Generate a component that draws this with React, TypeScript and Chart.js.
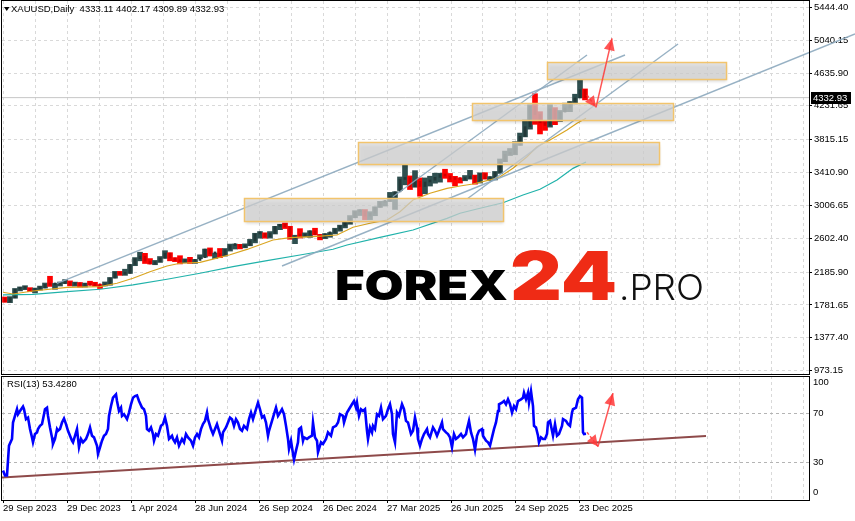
import React, { useEffect, useRef } from 'react';
import { Chart, registerables } from 'chart.js';

Chart.register(...registerables);

const FONT = '"Liberation Sans", Arial, sans-serif';

// ---------- axes / labels ----------
const dateLabels = ['29 Sep 2023', '29 Dec 2023', '1 Apr 2024', '28 Jun 2024', '26 Sep 2024', '26 Dec 2024', '27 Mar 2025', '26 Jun 2025', '24 Sep 2025', '23 Dec 2025'];
const gridIdx = [0, 32, 64, 96, 128, 160, 192, 224, 256, 288, 320, 352, 384, 416, 448, 480, 512, 544, 576, 608, 640, 672, 704, 736, 768, 800];
const priceTicks = [5444.40, 5040.15, 4635.90, 4231.65, 3815.15, 3410.90, 3006.65, 2602.40, 2185.90, 1781.65, 1377.40, 973.15];
const rsiTickPos = [95, 70, 30, 6.5];
const rsiTickText = ['100', '70', '30', '0'];
const rsiLevels = [70, 30];

const symbolText = 'XAUUSD,Daily';
const lastOHLC = ['4333.11', '4402.17', '4309.89', '4332.93'];
const lastClose = 4332.93;
const rsiName = 'RSI(13)';
const rsiLast = '53.4280';

// ---------- price (5-bar groups) ----------
const barsPerCandle = 5;
const firstOpen = 1866;
const candleHigh = [
  1880, 1885, 1985, 1997, 2010, 1995, 1990, 2008, 2052, 2135,
  2047, 2048, 2088, 2078, 2063, 2058, 2042, 2065, 2044, 2025,
  2041, 2120, 2195, 2185, 2222, 2280, 2365, 2431, 2417, 2353,
  2330, 2378, 2450, 2425, 2364, 2388, 2340, 2368, 2340, 2393,
  2470, 2484, 2420, 2477, 2477, 2531, 2531, 2528, 2529, 2589,
  2664, 2685, 2670, 2685, 2749, 2775, 2790, 2750, 2640, 2721,
  2665, 2695, 2726, 2650, 2660, 2673, 2726, 2764, 2800, 2882,
  2942, 2955, 2956, 2930, 2990, 3057, 3060, 3167, 3175, 3357,
  3500, 3370, 3435, 3345, 3345, 3366, 3403, 3403, 3452, 3400,
  3365, 3345, 3375, 3438, 3380, 3408, 3410, 3360, 3425, 3578,
  3675, 3707, 3791, 3897, 4059, 4245, 4381, 4160, 4050, 4245,
  4210, 4175, 4265, 4285, 4375, 4550, 4440,
];
const candleLow = [
  1815, 1810, 1865, 1955, 1970, 1945, 1930, 1965, 1990, 2010,
  1975, 2015, 2045, 2016, 2013, 2001, 2002, 2025, 2012, 1984,
  2016, 2025, 2112, 2146, 2146, 2170, 2265, 2325, 2292, 2286,
  2277, 2305, 2355, 2325, 2315, 2287, 2300, 2293, 2293, 2350,
  2370, 2384, 2353, 2364, 2383, 2445, 2470, 2472, 2485, 2510,
  2546, 2603, 2603, 2604, 2655, 2708, 2722, 2590, 2536, 2605,
  2620, 2613, 2643, 2583, 2597, 2615, 2656, 2690, 2730, 2775,
  2855, 2882, 2832, 2832, 2880, 2982, 2999, 3054, 2957, 3190,
  3260, 3202, 3230, 3120, 3150, 3245, 3280, 3293, 3340, 3295,
  3247, 3282, 3310, 3330, 3268, 3282, 3330, 3312, 3320, 3400,
  3545, 3620, 3630, 3745, 3850, 3945, 4004, 3886, 3930, 3970,
  4000, 4040, 4160, 4160, 4255, 4330, 4305,
];
const candleClose = [
  1820, 1870, 1975, 1985, 1985, 1958, 1980, 1992, 2036, 2028,
  2036, 2045, 2063, 2028, 2055, 2022, 2033, 2025, 2020, 2017,
  2031, 2114, 2182, 2160, 2171, 2280, 2352, 2383, 2322, 2286,
  2314, 2358, 2420, 2360, 2327, 2316, 2329, 2319, 2330, 2364,
  2469, 2410, 2410, 2390, 2465, 2513, 2524, 2493, 2516, 2570,
  2657, 2662, 2622, 2662, 2748, 2774, 2742, 2598, 2631, 2630,
  2643, 2694, 2646, 2612, 2657, 2670, 2714, 2753, 2794, 2855,
  2928, 2940, 2875, 2910, 2985, 3044, 3057, 3114, 3174, 3326,
  3348, 3238, 3305, 3240, 3295, 3318, 3352, 3386, 3368, 3328,
  3326, 3324, 3340, 3368, 3290, 3397, 3335, 3340, 3415, 3545,
  3635, 3645, 3750, 3857, 3975, 4225, 4125, 4025, 3990, 4195,
  4075, 4155, 4205, 4280, 4330, 4430, 4333,
];

// ---------- moving averages (bar index, price) ----------
const maFastIdx = [0, 10, 30, 64, 97, 114, 130, 147, 164, 177, 197, 210, 227, 244, 270, 287, 310, 334, 350, 367, 384, 397, 410, 427, 444, 457, 470, 487, 497, 510, 524, 534, 547, 564, 574, 583];
const maFastVal = [1938, 1917, 1954, 1999, 2007, 2049, 2110, 2191, 2261, 2295, 2307, 2345, 2400, 2465, 2581, 2610, 2622, 2643, 2738, 2787, 2827, 2930, 3073, 3156, 3217, 3246, 3270, 3320, 3360, 3464, 3606, 3729, 3812, 3935, 4017, 4079];
const maSlowIdx = [0, 30, 64, 97, 130, 164, 197, 230, 264, 297, 330, 344, 377, 410, 444, 457, 474, 500, 520, 537, 554, 570, 583];
const maSlowVal = [1905, 1913, 1945, 1975, 2028, 2098, 2172, 2253, 2327, 2397, 2467, 2520, 2614, 2704, 2848, 2910, 2963, 3040, 3135, 3205, 3319, 3463, 3540];

// ---------- drawn objects ----------
const trendIdx = [[54, 622], [279, 852], [465, 675], [390, 584]];
const trendVal = [[2048.5, 4857.5], [2261.3, 5115.9], [3094.3, 4992.8], [3114.0, 4857.5]];
const trendClip = [true, false, true, true];
const boxIdx = [[241, 500], [355, 656], [469, 670], [544, 723]];
const boxVal = [[2815.0, 3094.3], [3512.6, 3780.9], [4057.7, 4263.2], [4558.5, 4767.7]];
const arrowIdx = [584, 593, 609];
const arrowVal = [4365, 4214, 5063];

// ---------- RSI ----------
const rsiIdx = [
  0, 2, 4, 6, 9, 10, 12, 14, 15, 17, 20, 21, 23, 25, 27, 29, 30, 32, 34, 35, 37, 39, 40, 42, 44, 45, 47, 49, 50, 52,
  54, 55, 57, 59, 61, 63, 65, 67, 69, 70, 72, 74, 76, 78, 80, 83, 85, 87, 89, 91, 94, 95, 97, 99, 101, 103, 105, 106, 108, 110,
  113, 114, 116, 118, 119, 121, 124, 126, 128, 130, 132, 134, 136, 139, 141, 143, 144, 146, 148, 150, 151, 153, 155, 158, 160, 162,
  164, 166, 169, 170, 172, 174, 176, 179, 181, 183, 185, 188, 190, 192, 194, 196, 198, 200, 202, 204, 205, 208, 210, 212, 214, 217,
  219, 220, 223, 225, 227, 229, 231, 233, 235, 237, 239, 241, 244, 246, 248, 250, 253, 255, 257, 259, 261, 263, 265, 266, 269, 271,
  273, 275, 277, 279, 281, 283, 285, 286, 288, 290, 291, 293, 295, 296, 298, 300, 301, 304, 306, 309, 310, 312, 314, 315, 318, 320,
  323, 325, 328, 330, 333, 335, 337, 340, 341, 344, 346, 349, 351, 353, 354, 356, 358, 360, 362, 364, 365, 367, 369, 370, 372, 374,
  376, 378, 380, 383, 385, 387, 389, 390, 392, 394, 396, 399, 401, 403, 405, 408, 410, 412, 414, 415, 417, 419, 421, 424, 425, 427,
  430, 432, 434, 436, 439, 440, 443, 445, 447, 449, 451, 453, 455, 458, 460, 463, 464, 466, 468, 470, 472, 474, 476, 479, 480, 483,
  485, 487, 489, 491, 493, 495, 496, 499, 501, 503, 505, 507, 509, 511, 513, 515, 518, 520, 521, 523, 525, 526, 528, 530, 531, 533,
  535, 536, 538, 540, 542, 544, 545, 547, 549, 550, 552, 554, 556, 559, 560, 563, 565, 567, 569, 570, 573, 575, 577, 579, 580, 581, 583,
];
const rsiVal = [
  23.8, 19.8, 19.8, 43.8, 49.2, 62.5, 67.8, 73.2, 69.2, 71.8, 75.3, 73.2, 65.2, 66.5, 57.2, 50.5, 46.5, 53.2, 54.5, 57.2, 59.8, 61.2, 65.2, 73.2, 74.5, 67.8, 58.5, 50.5, 45.2, 49.2,
  57.2, 55.8, 57.2, 62.5, 65.7, 61.2, 55.8, 51.8, 47.8, 46.5, 51.8, 57.2, 42.5, 49.2, 46.5, 49.2, 53.2, 58.5, 51.8, 50.5, 43.8, 37.2, 42.5, 47.8, 51.8, 53.2, 57.2, 67.8, 75.8, 82.5,
  85.2, 79.8, 71.8, 74.5, 67.8, 69.2, 65.2, 70.5, 77.2, 82.5, 83.8, 84.4, 79.8, 74.5, 73.2, 67.8, 57.2, 55.8, 58.5, 53.2, 47.8, 53.2, 51.8, 59.8, 61.2, 66.5,
  59.8, 49.2, 51.8, 49.2, 46.5, 50.5, 43.8, 49.2, 46.5, 53.2, 50.5, 47.8, 43.8, 50.5, 53.2, 50.5, 57.2, 61.2, 63.8, 70.5, 65.2, 57.2, 53.2, 57.2, 61.2, 53.2,
  47.8, 54.5, 58.5, 62.5, 66.5, 65.2, 59.8, 65.2, 62.5, 57.2, 55.8, 59.8, 57.2, 65.2, 70.5, 65.2, 73.2, 78.5, 73.2, 66.5, 67.8, 62.5, 51.8, 55.8, 63.8, 69.2,
  74.5, 67.8, 70.5, 73.2, 69.2, 59.8, 49.2, 41.2, 47.8, 37.2, 32.6, 39.8, 46.5, 57.2, 58.5, 47.8, 50.5, 49.2, 50.5, 51.8, 62.5, 50.5, 47.8, 38.5, 46.5, 45.2,
  49.2, 54.5, 51.8, 58.5, 59.8, 62.5, 69.2, 67.8, 62.5, 70.5, 73.2, 77.2, 79.8, 74.5, 78.5, 67.8, 73.2, 71.8, 73.2, 55.8, 49.2, 58.5, 54.5, 59.8, 57.2, 69.2,
  67.8, 74.5, 65.2, 67.8, 73.2, 77.2, 69.2, 53.2, 46.5, 70.5, 67.8, 77.2, 73.2, 63.8, 62.5, 53.2, 55.8, 66.5, 58.5, 49.2, 43.8, 49.2, 53.2, 57.2, 53.2, 50.5,
  58.5, 55.8, 51.8, 55.8, 62.5, 57.2, 54.5, 53.2, 50.5, 42.5, 53.2, 49.2, 50.5, 53.2, 50.5, 53.2, 57.2, 63.8, 54.5, 49.2, 40.6, 51.8, 55.8, 57.2, 51.8, 47.8,
  46.5, 43.8, 50.5, 57.2, 62.5, 71.8, 77.2, 78.5, 79.8, 77.2, 81.2, 77.2, 70.5, 75.8, 73.2, 79.8, 81.2, 82.5, 86.5, 81.2, 86.5, 78.5, 87.8, 75.8, 59.8, 58.5,
  51.8, 46.5, 50.5, 49.2, 49.2, 53.2, 62.5, 63.8, 55.8, 51.8, 61.2, 51.8, 53.2, 59.8, 65.2, 63.8, 61.2, 59.8, 70.5, 73.2, 74.5, 81.2, 83.8, 82.5, 54.5, 53.2, 53.4,
];
const rsiTrendIdx = [-1, 703];
const rsiTrendVal = [18.2, 51.6];
const rsiArrowIdx = [584, 595, 610];
const rsiArrowVal = [54.6, 43.2, 86.2];

// ---------- styles ----------
const UP = '#2F4F4F';
const DOWN = '#FF0000';
const GRID = '#d9d9d9';
const ARROW = 'rgba(255,55,55,0.85)';

const X_MIN = -1;
const X_MAX = 806;

function noPad(s: any) {
  s.paddingTop = 0;
  s.paddingBottom = 0;
  s.paddingLeft = 0;
  s.paddingRight = 0;
}

function arrowHead(ctx: CanvasRenderingContext2D, x1: number, y1: number, x2: number, y2: number, len: number, half: number) {
  const a = Math.atan2(y2 - y1, x2 - x1);
  const bx = x2 - len * Math.cos(a);
  const by = y2 - len * Math.sin(a);
  ctx.beginPath();
  ctx.moveTo(x2, y2);
  ctx.lineTo(bx + half * Math.sin(a), by - half * Math.cos(a));
  ctx.lineTo(bx - half * Math.sin(a), by + half * Math.cos(a));
  ctx.closePath();
  ctx.fill();
}

function drawArrows(ctx: CanvasRenderingContext2D, pts: number[][]) {
  ctx.save();
  ctx.strokeStyle = ARROW;
  ctx.fillStyle = ARROW;
  ctx.lineWidth = 1.5;
  ctx.setLineDash([3, 2]);
  ctx.beginPath();
  ctx.moveTo(pts[0][0], pts[0][1]);
  ctx.lineTo(pts[1][0], pts[1][1]);
  ctx.stroke();
  ctx.setLineDash([]);
  arrowHead(ctx, pts[0][0], pts[0][1], pts[1][0], pts[1][1], 11, 5.5);
  ctx.beginPath();
  ctx.moveTo(pts[1][0], pts[1][1]);
  ctx.lineTo(pts[2][0], pts[2][1]);
  ctx.stroke();
  arrowHead(ctx, pts[1][0], pts[1][1], pts[2][0], pts[2][1], 12, 5.5);
  ctx.restore();
}

function fitText(ctx: CanvasRenderingContext2D, text: string, font: string, color: string, x: number, base: number, width: number) {
  ctx.save();
  ctx.font = font;
  const w = ctx.measureText(text).width || 1;
  ctx.translate(x, base);
  ctx.scale(width / w, 1);
  ctx.fillStyle = color;
  ctx.textAlign = 'left';
  ctx.textBaseline = 'alphabetic';
  ctx.fillText(text, 0, 0);
  ctx.restore();
}

function xGrid() {
  return {
    type: 'linear' as const,
    min: X_MIN,
    max: X_MAX,
    offset: false,
    afterBuildTicks: (s: any) => { s.ticks = gridIdx.map((v) => ({ value: v })); },
    border: { display: false, dash: [3, 3] },
  };
}

function mainConfig(): any {
  const opens = candleClose.map((_c, i) => (i === 0 ? firstOpen : candleClose[i - 1]));
  const candleColor = candleClose.map((c, i) => (c >= opens[i] ? UP : DOWN));
  const rangeData = candleHigh.map((h, i) => ({ x: i * barsPerCandle + 2, y: [candleLow[i], h] }));
  const bodyData = candleClose.map((c, i) => ({ x: i * barsPerCandle + 2, y: [opens[i], c] }));
  const bodyColor = candleColor.map((c) => (c === UP ? '#223838' : '#d00000'));

  const trendSets = trendIdx.map((p, i) => ({
    type: 'line',
    data: [{ x: p[0], y: trendVal[i][0] }, { x: p[1], y: trendVal[i][1] }],
    borderColor: 'rgba(140,168,190,0.9)',
    borderWidth: 1.4,
    pointRadius: 0,
    order: 1,
    ...(trendClip[i] ? {} : { clip: false }),
  }));

  const overlay = {
    id: 'overlay',
    beforeDraw(chart: any) {
      const ctx = chart.ctx;
      ctx.save();
      ctx.fillStyle = '#fff';
      ctx.fillRect(0, 0, chart.width, chart.height);
      ctx.restore();
    },
    beforeDatasetsDraw(chart: any) {
      const ctx = chart.ctx;
      fitText(ctx, 'FOREX', '900 41px Inter, Lato, "DejaVu Sans", sans-serif', '#000', 335, 300, 173);
      fitText(ctx, '24', '900 67px Inter, Lato, "DejaVu Sans", sans-serif', '#EF2B15', 510, 300, 107);
      fitText(ctx, '.PRO', '300 35px Inter, Lato, "DejaVu Sans", sans-serif', '#111', 619, 300, 85);
    },
    afterDatasetsDraw(chart: any) {
      const ctx = chart.ctx;
      const xs = chart.scales.x;
      const ys = chart.scales.y;
      const a = chart.chartArea;
      ctx.save();
      ctx.beginPath();
      ctx.rect(a.left, a.top, a.right - a.left, a.bottom - a.top);
      ctx.clip();
      boxIdx.forEach((b, i) => {
        const x1 = Math.round(xs.getPixelForValue(b[0])) + 0.5;
        const x2 = Math.round(xs.getPixelForValue(b[1])) + 0.5;
        const y1 = Math.round(ys.getPixelForValue(boxVal[i][1])) + 0.5;
        const y2 = Math.round(ys.getPixelForValue(boxVal[i][0])) + 0.5;
        ctx.save();
        ctx.shadowColor = 'rgba(0,0,0,0.22)';
        ctx.shadowBlur = 3;
        ctx.shadowOffsetY = 2;
        ctx.fillStyle = 'rgba(213,213,213,0.72)';
        ctx.fillRect(x1, y1, x2 - x1, y2 - y1);
        ctx.restore();
        ctx.strokeStyle = '#F2C46C';
        ctx.lineWidth = 1.5;
        ctx.strokeRect(x1, y1, x2 - x1, y2 - y1);
      });
      drawArrows(ctx, arrowIdx.map((v, i) => [xs.getPixelForValue(v), ys.getPixelForValue(arrowVal[i])]));
      ctx.restore();
    },
    afterDraw(chart: any) {
      const ctx = chart.ctx;
      const a = chart.chartArea;
      const ys = chart.scales.y;
      ctx.save();
      ctx.strokeStyle = '#000';
      ctx.lineWidth = 1;
      ctx.strokeRect(a.left - 0.5, a.top - 0.5, a.right - a.left + 1, a.bottom - a.top + 1);
      ctx.fillStyle = '#000';
      ctx.beginPath();
      ctx.moveTo(4, 7);
      ctx.lineTo(9.5, 7);
      ctx.lineTo(6.75, 11);
      ctx.closePath();
      ctx.fill();
      ctx.font = `9.5px ${FONT}`;
      ctx.textBaseline = 'middle';
      ctx.textAlign = 'left';
      ctx.fillText(`${symbolText}  ${lastOHLC.join(' ')}`, 11, 9);
      const y = Math.round(ys.getPixelForValue(lastClose));
      ctx.fillStyle = '#000';
      ctx.fillRect(811, y - 6, 40, 12);
      ctx.fillStyle = '#fff';
      ctx.fillText(lastOHLC[3], 813, y + 0.5);
      ctx.restore();
    },
  };

  return {
    type: 'line',
    data: {
      datasets: [
        ...trendSets,
        { type: 'line', data: maFastIdx.map((x, i) => ({ x, y: maFastVal[i] })), borderColor: '#DAA520', borderWidth: 1.2, pointRadius: 0, order: 2 },
        { type: 'line', data: maSlowIdx.map((x, i) => ({ x, y: maSlowVal[i] })), borderColor: '#20B2AA', borderWidth: 1.2, pointRadius: 0, order: 2 },
        { type: 'bar', data: bodyData, backgroundColor: bodyColor, barThickness: 2, minBarLength: 2, grouped: false, borderWidth: 0, order: 3 },
        { type: 'bar', data: rangeData, backgroundColor: candleColor, barThickness: 5, minBarLength: 4, grouped: false, borderWidth: 0, order: 4 },
        { type: 'line', data: [{ x: X_MIN, y: lastClose }, { x: X_MAX, y: lastClose }], borderColor: '#c6c6c6', borderWidth: 1, pointRadius: 0, order: 5 },
      ],
    },
    options: {
      animation: false,
      responsive: false,
      maintainAspectRatio: false,
      devicePixelRatio: 1,
      events: [],
      layout: { padding: { left: 2, top: 1, right: 0, bottom: 2 } },
      plugins: { legend: { display: false }, tooltip: { enabled: false } },
      scales: {
        x: {
          ...xGrid(),
          ticks: { display: false },
          grid: { color: GRID, drawTicks: false, offset: false },
          afterFit: (s: any) => { s.height = 0; noPad(s); },
        },
        y: {
          type: 'linear',
          position: 'right',
          min: 932.5,
          max: 5521.9,
          afterBuildTicks: (s: any) => { s.ticks = priceTicks.map((v) => ({ value: v })); },
          ticks: { callback: (v: any) => Number(v).toFixed(2), color: '#000', font: { family: FONT, size: 9.5 }, padding: 2 },
          grid: { color: GRID, tickColor: '#000', tickLength: 3, tickBorderDash: [] },
          border: { display: false, dash: [3, 3] },
          afterFit: (s: any) => { s.width = 46; noPad(s); },
        },
      },
    },
    plugins: [overlay],
  };
}

function rsiConfig(): any {
  const overlay = {
    id: 'rsiOverlay',
    beforeDraw(chart: any) {
      const ctx = chart.ctx;
      ctx.save();
      ctx.fillStyle = '#fff';
      ctx.fillRect(0, 0, chart.width, chart.height);
      ctx.restore();
    },
    afterDatasetsDraw(chart: any) {
      const xs = chart.scales.x;
      const ys = chart.scales.y;
      drawArrows(chart.ctx, rsiArrowIdx.map((v, i) => [xs.getPixelForValue(v), ys.getPixelForValue(rsiArrowVal[i])]));
    },
    afterDraw(chart: any) {
      const ctx = chart.ctx;
      const a = chart.chartArea;
      ctx.save();
      ctx.strokeStyle = '#000';
      ctx.lineWidth = 1;
      ctx.strokeRect(a.left - 0.5, a.top + 0.5, a.right - a.left + 1, a.bottom - a.top);
      ctx.fillStyle = '#000';
      ctx.font = `9.5px ${FONT}`;
      ctx.textBaseline = 'middle';
      ctx.textAlign = 'left';
      ctx.fillText(`${rsiName} ${rsiLast}`, 7, 9);
      ctx.restore();
    },
  };

  return {
    type: 'line',
    data: {
      datasets: [
        { data: rsiIdx.map((x, i) => ({ x, y: rsiVal[i] })), borderColor: '#0000FF', borderWidth: 2.6, pointRadius: 0, order: 1 },
        { data: rsiTrendIdx.map((x, i) => ({ x, y: rsiTrendVal[i] })), borderColor: '#8E4A4A', borderWidth: 2, pointRadius: 0, order: 2 },
      ],
    },
    options: {
      animation: false,
      responsive: false,
      maintainAspectRatio: false,
      devicePixelRatio: 1,
      events: [],
      layout: { padding: { left: 2, top: 1, right: 0, bottom: 0 } },
      plugins: { legend: { display: false }, tooltip: { enabled: false } },
      scales: {
        x: {
          ...xGrid(),
          ticks: {
            autoSkip: false,
            maxRotation: 0,
            minRotation: 0,
            align: 'start',
            padding: 0,
            color: '#000',
            font: { family: FONT, size: 9.5 },
            callback: (_v: any, i: number) => (i % 2 === 0 && i / 2 < dateLabels.length ? dateLabels[i / 2] : ''),
          },
          grid: {
            color: GRID,
            offset: false,
            drawTicks: true,
            tickLength: 3,
            tickBorderDash: [],
            tickColor: (c: any) => (c.index % 2 === 0 && c.index / 2 < dateLabels.length ? '#000' : 'rgba(0,0,0,0)'),
          },
          afterFit: (s: any) => { s.height = 21; noPad(s); },
        },
        y: {
          type: 'linear',
          position: 'right',
          min: 0,
          max: 100,
          afterBuildTicks: (s: any) => { s.ticks = rsiTickPos.map((v) => ({ value: v })); },
          ticks: { callback: (_v: any, i: number) => rsiTickText[i], color: '#000', font: { family: FONT, size: 9.5 }, padding: 4 },
          grid: {
            drawTicks: false,
            color: (c: any) => (c.tick && rsiLevels.includes(c.tick.value) ? '#b4b4b4' : 'rgba(0,0,0,0)'),
          },
          border: { display: false, dash: [3, 3] },
          afterFit: (s: any) => { s.width = 46; noPad(s); },
        },
      },
    },
    plugins: [overlay],
  };
}

export default function App() {
  const mainRef = useRef<HTMLCanvasElement>(null);
  const rsiRef = useRef<HTMLCanvasElement>(null);

  useEffect(() => {
    const main = new Chart(mainRef.current as HTMLCanvasElement, mainConfig());
    const rsi = new Chart(rsiRef.current as HTMLCanvasElement, rsiConfig());
    return () => {
      main.destroy();
      rsi.destroy();
    };
  }, []);

  return (
    <div style={{ position: 'fixed', left: 0, top: 0, width: 855, height: 521, background: '#fff', overflow: 'hidden' }}>
      <canvas ref={mainRef} width={855} height={376} style={{ position: 'absolute', left: 0, top: 0, width: 855, height: 376 }} />
      <canvas ref={rsiRef} width={855} height={146} style={{ position: 'absolute', left: 0, top: 375, width: 855, height: 146 }} />
    </div>
  );
}
